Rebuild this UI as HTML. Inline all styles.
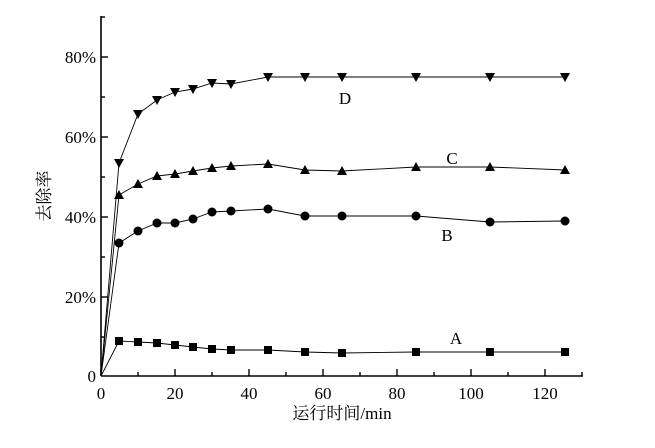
<!DOCTYPE html><html><head><style>body{margin:0;background:#fff}</style></head><body>
<svg width="655" height="443" xmlns="http://www.w3.org/2000/svg" font-family="Liberation Serif, serif">
<rect width="655" height="443" fill="#fff"/>
<g stroke="#000" stroke-width="1.6" fill="none">
<line x1="101" y1="16" x2="101" y2="376"/>
<line x1="101" y1="376" x2="583" y2="376"/>
</g>
<g stroke="#000" stroke-width="1.4" id="t"></g>
<g font-size="17" fill="#000" text-anchor="end">
<text x="96" y="63">80%</text><text x="96" y="143">60%</text><text x="96" y="223">40%</text><text x="96" y="303">20%</text><text x="96" y="382">0</text>
</g>
<g font-size="17" fill="#000" text-anchor="middle">
<text x="101" y="399">0</text><text x="175" y="399">20</text><text x="249" y="399">40</text><text x="323" y="399">60</text><text x="397" y="399">80</text><text x="471" y="399">100</text><text x="545" y="399">120</text>
<text x="342" y="419" font-family="Liberation Serif, 'Noto Serif CJK SC', serif">运行时间/min</text>
<text x="345" y="104">D</text><text x="452" y="164">C</text><text x="447" y="241">B</text><text x="456" y="344">A</text>
</g>
<text transform="translate(50,196) rotate(-90)" font-size="17" text-anchor="middle" font-family="'Noto Serif CJK SC', serif">去除率</text>
<g id="s" stroke="#000" stroke-width="0.9" fill="none"></g>
<g id="m" fill="#000"></g>
<script>
var NS="http://www.w3.org/2000/svg",t=document.getElementById('t'),s=document.getElementById('s'),m=document.getElementById('m');
function el(p,n,a){var e=document.createElementNS(NS,n);for(var k in a)e.setAttribute(k,a[k]);p.appendChild(e);}
for(var v=0;v<=130;v+=10){var x=101+3.7*v,l=v%20?4:7;el(t,'line',{x1:x,y1:376,x2:x,y2:376-l});}
for(var p=10;p<=90;p+=10){var y=377-4*p,l=p%20?4:7;el(t,'line',{x1:101,y1:y,x2:101+l,y2:y});}
var X=[119,138,157,175,193,212,231,268,305,342,416,490,565];
var S={D:[163,114,100,92,89,83,84,77,77,77,77,77,77],C:[195,184,176,174,171,168,166,164,170,171,167,167,170],B:[243,231,223,223,219,212,211,209,216,216,216,222,221],A:[341,342,343,345,347,349,350,350,352,353,352,352,352]};
for(var k in S){var pts="101,376";S[k].forEach(function(y,i){pts+=" "+X[i]+","+y;});el(s,'polyline',{points:pts});
S[k].forEach(function(y,i){var x=X[i];
if(k=='A')el(m,'rect',{x:x-4,y:y-4,width:8,height:8});
if(k=='B')el(m,'circle',{cx:x,cy:y,r:4.5});
if(k=='C')el(m,'polygon',{points:(x-5)+","+(y+4)+" "+(x+5)+","+(y+4)+" "+x+","+(y-5)});
if(k=='D')el(m,'polygon',{points:(x-5)+","+(y-4)+" "+(x+5)+","+(y-4)+" "+x+","+(y+5)});});}
</script>
</svg></body></html>
